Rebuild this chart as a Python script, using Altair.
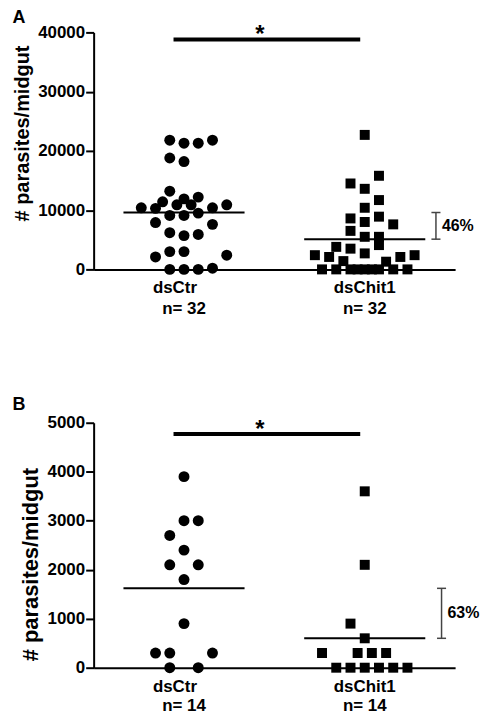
import altair as alt
import pandas as pd

FONT = "Liberation Sans"
groups = ["dsCtr", "dsChit1"]
n_a = ["n= 32", "n= 32"]
n_b = ["n= 14", "n= 14"]

# Panel A values (parasites/midgut) and swarm column (half-column steps)
a_ctr_vals = [21800, 21300, 21300, 21800, 18800, 18200, 13200, 11400, 11900, 12200,
              10400, 10300, 10900, 10900, 10400, 10900, 9100, 9100, 9500, 7900, 7600,
              6200, 5700, 5900, 2100, 3000, 3000, 2400, 0, 0, 0, 200]
a_ctr_cols = [-2, 0, 2, 4, -2, 0, -2, -3, 0, 2,
              -6, -4, -1, 1, 4, 6, -2, 0, 2, -4, 4,
              -2, 0, 2, -4, -2, 0, 6, -2, 0, 2, 4]
a_chit_vals = [22700, 14500, 13600, 15800, 11700, 10400, 8600, 8000, 8900, 7600,
               6500, 5500, 5500, 4100, 3800, 3500, 2400, 2100, 2700, 2100, 2400,
               1400, 1300, 0, 0, 0, 0, 0, 0, 0, 0, 0]
a_chit_cols = [0, -2, 0, 2, 2, 0, -2, 0, 2, 4,
               -2, 0, 2, 2, -4, -2, -7, -5, 0, 5, 7,
               -3, 3, -6, -4, -2, -1, 0, 1, 2, 4, 6]
a_means = [9600, 5100]
a_sig = 38800
a_pct = "46%"

# Panel B
b_ctr_vals = [3900, 3000, 3000, 2700, 2400, 2100, 2100, 1800, 900, 300, 300, 300, 0, 0]
b_ctr_cols = [0, 0, 2, -2, 0, -2, 2, 0, 0, -4, -2, 4, -2, 2]
b_chit_vals = [3600, 2100, 900, 600, 300, 300, 300, 300, 0, 0, 0, 0, 0, 0]
b_chit_cols = [0, 0, -2, 0, -6, -1, 1, 3, -4, -2, 0, 2, 4, 6]
b_means = [1620, 600]
b_sig = 4770
b_pct = "63%"

COL = 0.0394  # one half-column of the swarm, in category units
W = 363


def panel(letter, ctr_vals, ctr_cols, chit_vals, chit_cols, means, sig, pct,
          ymax, ystep, height, nlab, bracket_x, n_y, letter_y, title_y, title_fs):
    rows = []
    for v, c in zip(ctr_vals, ctr_cols):
        rows.append({"group": groups[0], "value": v, "x": 0 + c * COL})
    for v, c in zip(chit_vals, chit_cols):
        rows.append({"group": groups[1], "value": v, "x": 1 + c * COL})
    df = pd.DataFrame(rows)

    xscale = alt.Scale(domain=[-0.5, 1.5], nice=False)
    yscale = alt.Scale(domain=[0, ymax], nice=False)
    xaxis = alt.Axis(title=None, labels=False, ticks=False, grid=False,
                     domainColor="black", domainWidth=2)
    yaxis = alt.Axis(title="# parasites/midgut", values=list(range(0, ymax + 1, ystep)),
                     format="d", grid=False, domainColor="black", domainWidth=2,
                     tickColor="black", tickWidth=2, tickSize=8, labelPadding=1,
                     labelFont=FONT, labelFontSize=17, labelFontWeight="bold",
                     labelColor="black", titleFont=FONT, titleFontSize=title_fs,
                     titleFontWeight="bold", titleColor="black", titlePadding=5,
                     titleY=title_y)

    pts = alt.Chart(df).mark_point(filled=True, opacity=1, strokeWidth=0).encode(
        x=alt.X("x:Q", scale=xscale, axis=xaxis),
        y=alt.Y("value:Q", scale=yscale, axis=yaxis),
        shape=alt.Shape("group:N", scale=alt.Scale(domain=groups, range=["circle", "square"]),
                        legend=None),
        size=alt.Size("group:N", scale=alt.Scale(domain=groups, range=[121, 100]), legend=None),
        color=alt.value("black"),
    )

    mdf = pd.DataFrame({"group": groups, "mean": means,
                        "x1": [i - 0.335 for i in range(2)],
                        "x2": [i + 0.335 for i in range(2)]})
    mean_rule = alt.Chart(mdf).mark_rule(color="black", strokeWidth=2).encode(
        x="x1:Q", x2="x2:Q", y="mean:Q")

    sdf = pd.DataFrame({"x1": [-0.058], "x2": [0.975], "y": [sig], "xs": [0.42]})
    sig_rule = alt.Chart(sdf).mark_rule(color="black", strokeWidth=4).encode(
        x="x1:Q", x2="x2:Q", y="y:Q")
    star = alt.Chart(sdf).mark_text(text="*", font=FONT, fontSize=24, fontWeight="bold",
                                    baseline="alphabetic", dy=3, color="black").encode(
        x="xs:Q", y="y:Q")

    bdf = pd.DataFrame({"lo": [means[1]], "hi": [means[0]], "bx": [bracket_x],
                        "c1": [bracket_x - 0.025], "c2": [bracket_x + 0.025],
                        "tx": [bracket_x + 0.033], "mid": [(means[0] + means[1]) / 2],
                        "label": [pct]})
    bcol = "#444444"
    bvert = alt.Chart(bdf).mark_rule(color=bcol, strokeWidth=1.5).encode(
        x="bx:Q", y="lo:Q", y2="hi:Q")
    bcap1 = alt.Chart(bdf).mark_rule(color=bcol, strokeWidth=1.5).encode(
        x="c1:Q", x2="c2:Q", y="lo:Q")
    bcap2 = alt.Chart(bdf).mark_rule(color=bcol, strokeWidth=1.5).encode(
        x="c1:Q", x2="c2:Q", y="hi:Q")
    btxt = alt.Chart(bdf).mark_text(font=FONT, fontSize=16, fontWeight="bold", align="left",
                                    baseline="middle", color="black").encode(
        x="tx:Q", y="mid:Q", text="label:N")

    ldf = pd.DataFrame({"x": [-0.05, 1], "xn": [0, 1], "name": groups, "n": nlab})
    lab1 = alt.Chart(ldf).mark_text(font=FONT, fontSize=17, fontWeight="bold",
                                    baseline="middle", color="black").encode(
        x="x:Q", y=alt.value(height + 19), text="name:N")
    lab2 = alt.Chart(ldf).mark_text(font=FONT, fontSize=17, fontWeight="bold",
                                    baseline="middle", color="black").encode(
        x="xn:Q", y=alt.value(height + n_y), text="n:N")
    letter_mark = alt.Chart(pd.DataFrame({"t": [letter]})).mark_text(
        font=FONT, fontSize=18, fontWeight="bold", baseline="middle", align="center",
        color="black").encode(x=alt.value(-75), y=alt.value(letter_y), text="t:N")

    return alt.layer(mean_rule, sig_rule, star, bvert, bcap1, bcap2, btxt,
                     pts, lab1, lab2, letter_mark).properties(width=W, height=height)


pa = panel("A", a_ctr_vals, a_ctr_cols, a_chit_vals, a_chit_cols, a_means, a_sig, a_pct,
           40000, 10000, 238, n_a, 1.394, 40, -14, 101, 20)
pb = panel("B", b_ctr_vals, b_ctr_cols, b_chit_vals, b_chit_cols, b_means, b_sig, b_pct,
           5000, 1000, 246, n_b, 1.425, 38, -18, 142, 22)

chart = alt.vconcat(pa, pb, spacing=79).properties(
    padding={"left": 4, "top": 0, "right": 0, "bottom": 0}
).configure(background="white").configure_view(strokeWidth=0, stroke="transparent")

chart.save("out.html", embed_options={"renderer": "svg", "actions": False})
